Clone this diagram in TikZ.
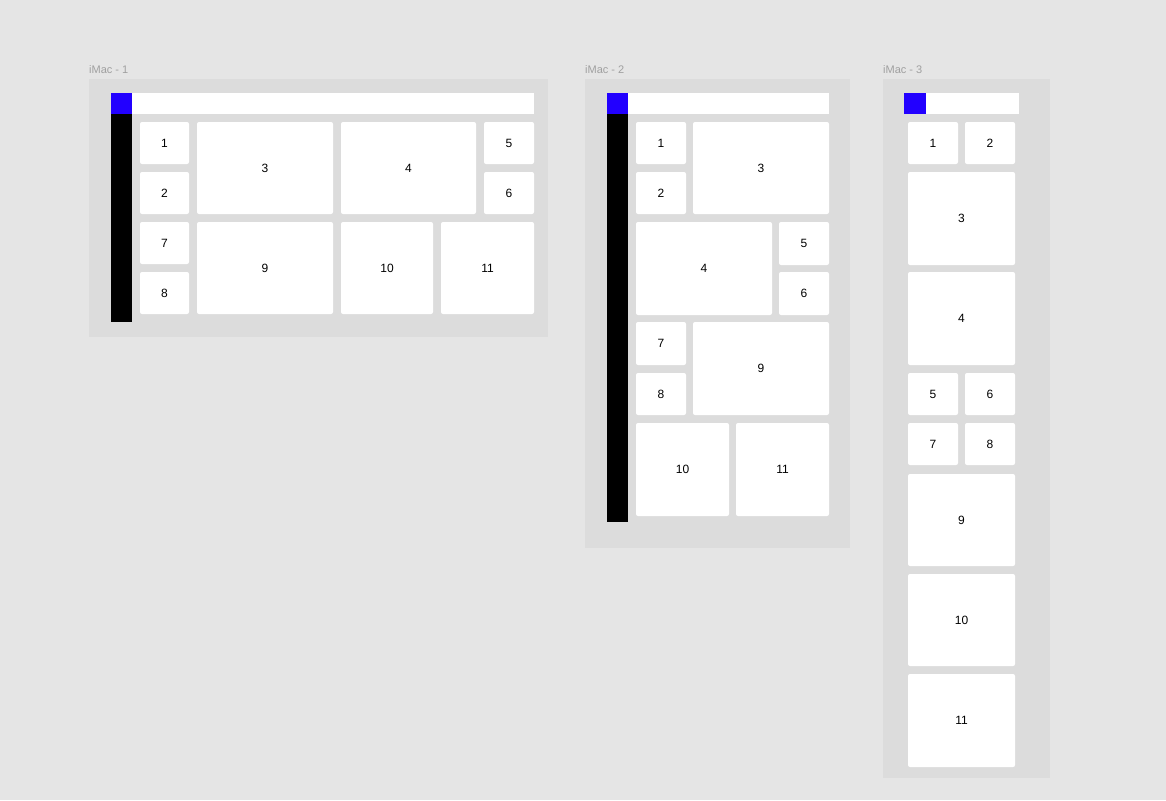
\documentclass[tikz,border=0pt]{standalone}
\usepackage{fontspec}
\setmainfont{Liberation Sans}
\usepackage{tikz}
\usetikzlibrary{positioning}

\definecolor{canvas}{HTML}{E5E5E5}
\definecolor{framebg}{HTML}{DCDCDC}
\definecolor{navblue}{HTML}{2200FF}
\definecolor{labelgray}{HTML}{A0A0A0}

\tikzset{
  frame/.style={fill=framebg, draw=none, inner sep=0pt, anchor=north west},
  title/.style={font=\fontsize{11}{13}\selectfont, text=labelgray, inner sep=0pt},
  card/.style={fill=white, rounded corners=2pt},
  num/.style={font=\fontsize{12}{14}\selectfont, inner sep=0pt, text=black},
}

\begin{document}
\begin{tikzpicture}[x=1pt, y=-1pt]
% Canvas
\fill[canvas] (0,0) rectangle (1166,800);
\useasboundingbox (0,0) rectangle (1166,800);

% Frames
\node[frame, minimum width=459pt, minimum height=258pt] (f1) at (89,79) {};
\node[frame, minimum width=265pt, minimum height=469pt] (f2) at (585,79) {};
\node[frame, minimum width=167pt, minimum height=699pt] (f3) at (883,79) {};
\node[title, above right=5pt and 0pt of f1.north west] (t1) {iMac - 1};
\node[title, above right=5pt and 0pt of f2.north west] (t2) {iMac - 2};
\node[title, above right=5pt and 0pt of f3.north west] (t3) {iMac - 3};

% Header bars and sidebars
\fill[white] (111,93) rectangle (534,114);
\fill[navblue] (111,93) rectangle (132,114);
\fill[black] (111,114) rectangle (132,322);
\fill[white] (607,93) rectangle (829,114);
\fill[navblue] (607,93) rectangle (628,114);
\fill[black] (607,114) rectangle (628,522);
\fill[white] (904,93) rectangle (1019,114);
\fill[navblue] (904,93) rectangle (926,114);

% Cards, frame 1
\foreach \n/\xa/\ya/\xb/\yb in {1/140/122/189/164, 2/140/172/189/214,
  3/197/122/333/214, 4/341/122/476/214, 5/484/122/534/164, 6/484/172/534/214,
  7/140/222/189/264, 8/140/272/189/314, 9/197/222/333/314,
  10/341/222/433/314, 11/441/222/534/314}{
\fill[card] (\xa,\ya) rectangle (\xb,\yb) node[num, midway] (f1-\n) {\n};
}
% Cards, frame 2
\foreach \n/\xa/\ya/\xb/\yb in {1/636/122/686/164, 2/636/172/686/214,
  3/693/122/829/214, 4/636/222/772/315, 5/779/222/829/265, 6/779/272/829/315,
  7/636/322/686/365, 8/636/373/686/415, 9/693/322/829/415,
  10/636/423/729/516, 11/736/423/829/516}{
\fill[card] (\xa,\ya) rectangle (\xb,\yb) node[num, midway] (f2-\n) {\n};
}
% Cards, frame 3
\foreach \n/\xa/\ya/\xb/\yb in {1/908/122/958/164, 2/965/122/1015/164,
  3/908/172/1015/265, 4/908/272/1015/365, 5/908/373/958/415, 6/965/373/1015/415,
  7/908/423/958/465, 8/965/423/1015/465, 9/908/474/1015/566,
  10/908/574/1015/666, 11/908/674/1015/767}{
\fill[card] (\xa,\ya) rectangle (\xb,\yb) node[num, midway] (f3-\n) {\n};
}
\end{tikzpicture}
\end{document}
